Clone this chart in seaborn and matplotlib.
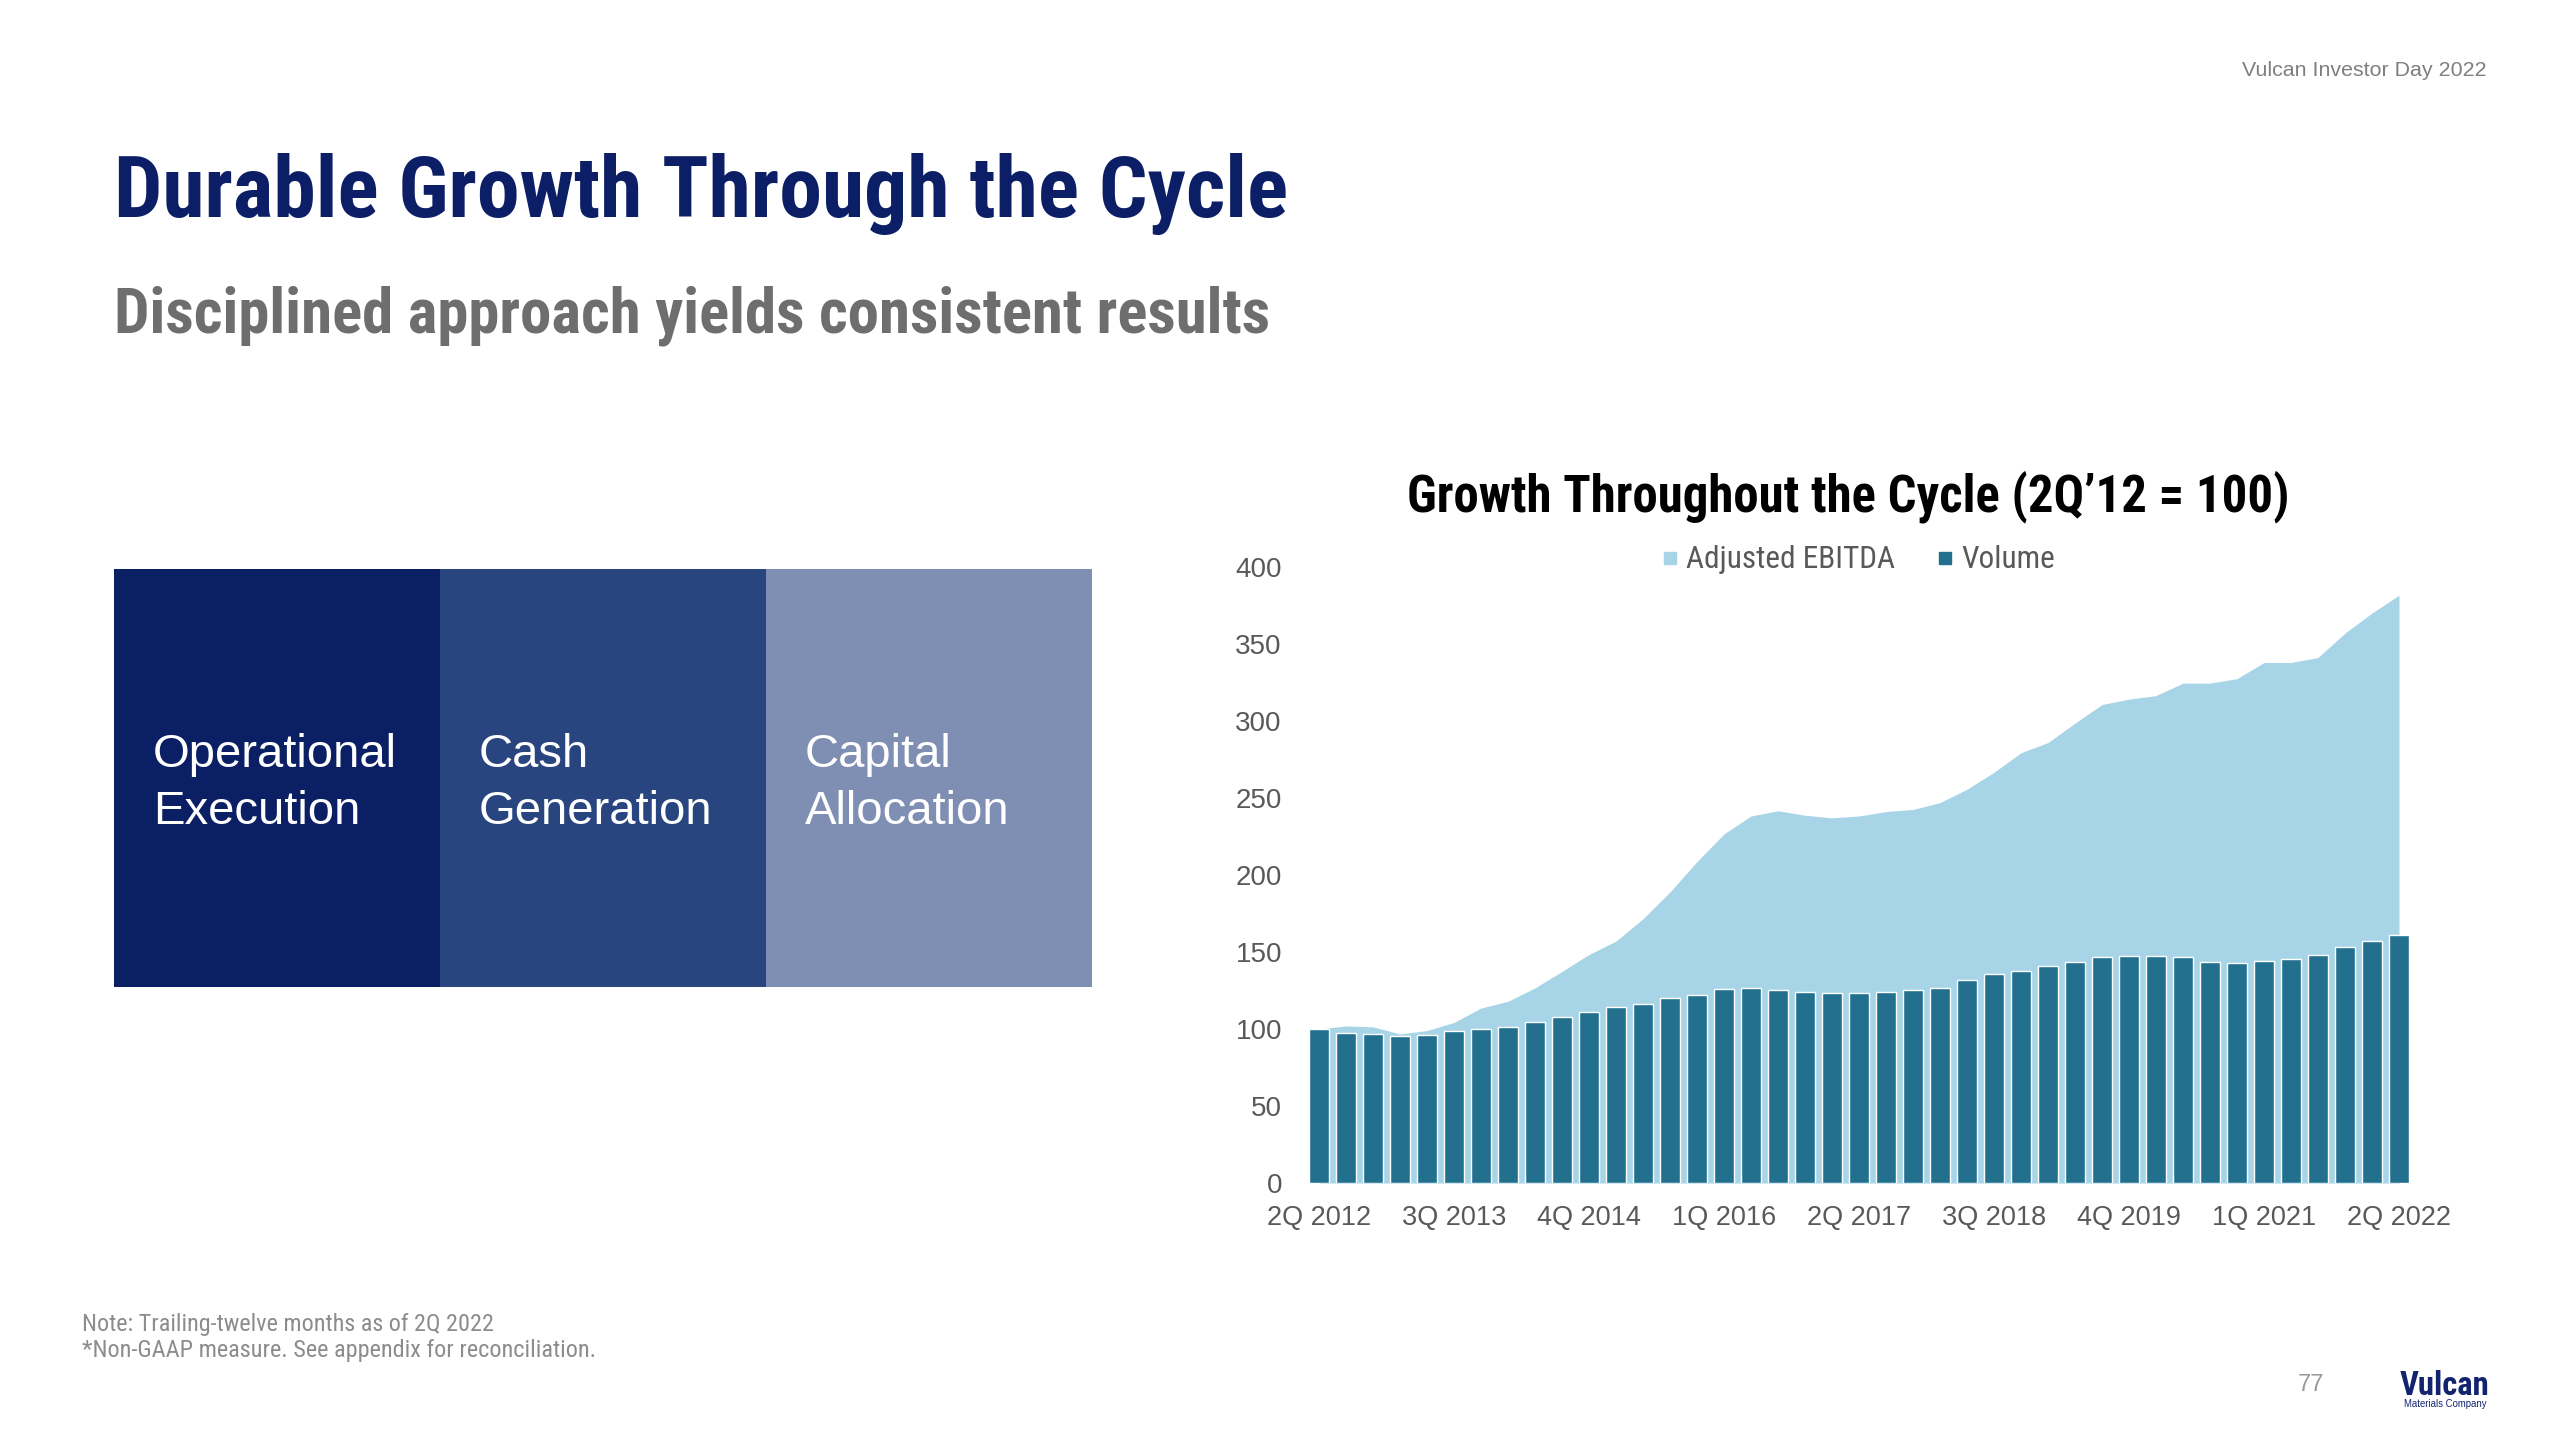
import matplotlib
matplotlib.use("Agg")
import matplotlib.pyplot as plt
import seaborn as sns
import numpy as np
from matplotlib import font_manager as fm
from matplotlib.patches import Rectangle
from matplotlib.lines import Line2D

# ---------------- data ----------------
quarters = ["2Q 2012", "3Q 2012", "4Q 2012", "1Q 2013", "2Q 2013", "3Q 2013", "4Q 2013",
            "1Q 2014", "2Q 2014", "3Q 2014", "4Q 2014", "1Q 2015", "2Q 2015", "3Q 2015",
            "4Q 2015", "1Q 2016", "2Q 2016", "3Q 2016", "4Q 2016", "1Q 2017", "2Q 2017",
            "3Q 2017", "4Q 2017", "1Q 2018", "2Q 2018", "3Q 2018", "4Q 2018", "1Q 2019",
            "2Q 2019", "3Q 2019", "4Q 2019", "1Q 2020", "2Q 2020", "3Q 2020", "4Q 2020",
            "1Q 2021", "2Q 2021", "3Q 2021", "4Q 2021", "1Q 2022", "2Q 2022"]
volume = [100, 97.4, 96.8, 95.7, 96.2, 98.6, 100, 101.2, 104.3, 107.5, 111, 114.2, 116.5,
          120, 122.3, 126, 126.7, 125.2, 124.3, 123.5, 123.5, 123.8, 125.2, 126.7, 131.6,
          135.9, 137.7, 141.2, 143.2, 146.7, 147.2, 147.2, 146.7, 143.2, 142.6, 144.3,
          145.2, 148.1, 153, 157.1, 160.9]
ebitda = [100, 102, 101.4, 96.8, 99, 104.3, 113.6, 118, 126.7, 137.4, 148.4, 157.1, 171.6,
          189, 208.7, 226.7, 238.3, 241.7, 238.8, 237.1, 238.3, 241.2, 242.6, 247, 255.7,
          266.7, 279.4, 286, 298.6, 310.7, 314.2, 316.5, 324.6, 324.6, 327.5, 338, 338,
          341.2, 357.1, 370.1, 381.7]
tick_labels = ["2Q 2012", "3Q 2013", "4Q 2014", "1Q 2016", "2Q 2017", "3Q 2018",
               "4Q 2019", "1Q 2021", "2Q 2022"]
y_ticks = [0, 50, 100, 150, 200, 250, 300, 350, 400]
pillars = [["Operational", "Execution"], ["Cash", "Generation"], ["Capital", "Allocation"]]
series_names = ["Adjusted EBITDA", "Volume"]

# ---------------- style ----------------
sns.set_theme(style="white")
available = {(f.name, f.stretch) for f in fm.fontManager.ttflist}
names = {f.name for f in fm.fontManager.ttflist}

def pick_narrow():
    for nm in ["Liberation Sans Narrow", "Arial Narrow", "Roboto Condensed", "Open Sans Condensed"]:
        if nm in names:
            return nm, "normal"
    for nm, st in available:
        if nm == "DejaVu Sans" and st in ("condensed", "semi-condensed", 600, 500):
            return "DejaVu Sans", "condensed"
    return "Liberation Sans", "normal"

NARROW, NSTRETCH = pick_narrow()
SANS = "Liberation Sans" if "Liberation Sans" in names else "DejaVu Sans"
plt.rcParams['font.family'] = [SANS, 'DejaVu Sans']

W, H = 2560, 1440
fig = plt.figure(figsize=(25.6, 14.4), dpi=100)
fig.patch.set_facecolor("white")

def fx(x):
    return x / W

def fy(y):
    return 1 - y / H

BAR = "#236F8E"
AREA = "#A7D5E7"
TITLE = "#0C1F66"
TXT = "#595959"

# ---------------- chart ----------------
ax_left, ax_right, ax_top, ax_bot = 1305.5, 2412.5, 567, 1183
ax = fig.add_axes([fx(ax_left), fy(ax_bot), (ax_right - ax_left) / W, (ax_bot - ax_top) / H])
xpos = np.arange(len(quarters))
ax.fill_between(xpos, ebitda, 0, color=AREA, lw=0, zorder=1)
sns.barplot(x=quarters, y=volume, color=BAR, saturation=1, width=0.72, ax=ax, zorder=2)
for p in ax.patches:
    p.set_zorder(2)
ax.set_xlim(-0.5, len(quarters) - 0.5)
ax.set_ylim(0, 400)
ax.set_yticks(y_ticks)
ax.set_yticklabels([str(v) for v in y_ticks])
ax.set_xticks([quarters.index(t) for t in tick_labels])
ax.set_xticklabels(tick_labels)
ax.tick_params(axis="y", length=0, pad=17, labelsize=20, labelcolor=TXT)
ax.tick_params(axis="x", length=0, pad=16, labelsize=19.5, labelcolor=TXT)
for s in ax.spines.values():
    s.set_visible(False)
ax.set_xlabel("")
ax.set_ylabel("")
ax.set_facecolor("none")
ax.grid(False)

handles = [Line2D([], [], marker="s", ls="", color=AREA, markersize=8.5),
           Line2D([], [], marker="s", ls="", color=BAR, markersize=8.5)]
fig.legend(handles, series_names, loc="center", bbox_to_anchor=(fx(1858), fy(560)),
           ncol=2, frameon=False, handlelength=0.55, handletextpad=0.25, columnspacing=1.3,
           prop=fm.FontProperties(family=NARROW, stretch=NSTRETCH, size=22.5), labelcolor=TXT)

# ---------------- texts ----------------
texts_to_fit = []

def T(x, y, s, w=None, **kw):
    t = fig.text(fx(x), fy(y), s, **kw)
    if w is not None:
        texts_to_fit.append((t, w))
    return t

T(114, 217, "Durable Growth Through the Cycle", w=1176, family=[NARROW, "DejaVu Sans"],
  fontstretch=NSTRETCH, fontweight="bold", color=TITLE, fontsize=70, va="baseline", ha="left")
T(114, 333, "Disciplined approach yields consistent results", w=1156,
  family=[NARROW, "DejaVu Sans"], fontstretch=NSTRETCH, fontweight="bold", color="#6E6E6E",
  fontsize=48, va="baseline", ha="left")
T(1848, 511, "Growth Throughout the Cycle (2Q\u201912 = 100)", w=882,
  family=[NARROW, "DejaVu Sans"], fontstretch=NSTRETCH, fontweight="bold", color="black",
  fontsize=34, va="baseline", ha="center")
T(2487, 70, "Vulcan Investor Day 2022", w=245, color="#7F7F7F", fontsize=15,
  va="center", ha="right")
T(82, 1324, "Note: Trailing-twelve months as of 2Q 2022", w=413,
  family=[NARROW, "DejaVu Sans"], fontstretch=NSTRETCH, color="#8C8C8C", fontsize=16,
  va="center", ha="left")
T(82, 1350, "*Non-GAAP measure. See appendix for reconciliation.", w=516,
  family=[NARROW, "DejaVu Sans"], fontstretch=NSTRETCH, color="#8C8C8C", fontsize=16,
  va="center", ha="left")
T(2311, 1385, "77", color="#9A9A9A", fontsize=17, va="center", ha="center")
T(2445, 1395, "Vulcan", w=90, color="#13246E", fontweight="bold",
  family=[NARROW, "DejaVu Sans"], fontstretch=NSTRETCH, fontsize=30, va="baseline", ha="center")
T(2445, 1404, "Materials Company", w=84, color="#13246E", fontsize=5, va="center", ha="center")

# pillar boxes
box_x = [114, 440, 766, 1092]
box_colors = ["#0A1F64", "#284580", "#7F8FB3"]
for i, (c, lines) in enumerate(zip(box_colors, pillars)):
    fig.add_artist(Rectangle((fx(box_x[i]), fy(987)), (box_x[i + 1] - box_x[i]) / W,
                             (987 - 569) / H, transform=fig.transFigure,
                             facecolor=c, edgecolor="none"))
    for j, ln in enumerate(lines):
        T(box_x[i] + 39, 767 + j * 57, ln, color="white", fontsize=34,
          va="baseline", ha="left")

# fit widths
fig.canvas.draw()
r = fig.canvas.get_renderer()
for t, w in texts_to_fit:
    bb = t.get_window_extent(r)
    if bb.width > 0:
        t.set_fontsize(t.get_fontsize() * w / bb.width)

fig.savefig("out.png", dpi=100, facecolor="white")
